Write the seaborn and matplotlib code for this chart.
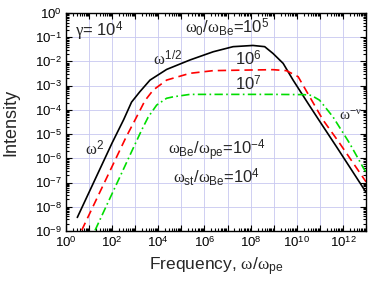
import numpy as np
import pandas as pd
import matplotlib
matplotlib.use("Agg")
import matplotlib.pyplot as plt
import seaborn as sns
from matplotlib.ticker import LogLocator, FuncFormatter, NullFormatter

# log10 of frequency / intensity
blk_lx = [0.49, 1.0, 1.5, 2.0, 2.5, 2.84, 3.2, 3.64, 4.36, 5.37, 6.38, 7.24, 8.1, 8.61, 8.97, 9.41, 9.84, 10.5, 11.0, 11.72, 12.3, 13.0]
blk_ly = [-8.44, -7.40, -6.38, -5.36, -4.40, -3.68, -3.25, -2.77, -2.33, -1.94, -1.60, -1.39, -1.34, -1.39, -1.67, -2.08, -2.77, -3.75, -4.48, -5.52, -6.37, -7.40]

red_lx = [0.68, 1.2, 1.7, 2.2, 2.6, 3.0, 3.42, 3.78, 4.36, 5.37, 6.38, 7.53, 8.97, 9.55, 10.06, 10.56, 11.14, 11.86, 12.8, 13.0]
red_ly = [-8.97, -7.93, -6.93, -5.93, -5.13, -4.40, -3.62, -3.18, -2.77, -2.49, -2.38, -2.36, -2.34, -2.38, -2.63, -3.46, -4.42, -5.38, -6.69, -6.97]

grn_lx = [1.26, 1.8, 2.3, 2.8, 3.28, 3.56, 3.93, 4.36, 4.65, 5.37, 7.0, 9.0, 10.3, 10.63, 10.99, 11.57, 12.29, 12.9, 13.0]
grn_ly = [-8.97, -7.86, -6.84, -5.81, -4.83, -4.30, -3.80, -3.52, -3.46, -3.36, -3.36, -3.36, -3.37, -3.40, -3.60, -4.29, -5.38, -6.42, -6.57]

def frame(lx, ly, name):
    return pd.DataFrame({"freq": 10.0 ** np.array(lx), "intensity": 10.0 ** np.array(ly), "case": name})

df = pd.concat([frame(blk_lx, blk_ly, "1e5"), frame(red_lx, red_ly, "1e6"), frame(grn_lx, grn_ly, "1e7")])

sns.set_theme(style="ticks")
plt.rcParams["font.family"] = ["Liberation Sans", "DejaVu Sans"]
plt.rcParams["mathtext.fontset"] = "custom"
plt.rcParams["mathtext.rm"] = "Liberation Sans"
plt.rcParams["mathtext.it"] = "Liberation Serif"
plt.rcParams["mathtext.bf"] = "Liberation Sans:bold"

fig = plt.figure(figsize=(3.8, 2.81), dpi=100)
ax = fig.add_axes([66 / 380, 1 - 231 / 281, 300 / 380, 218 / 281])

styles = {"1e5": ("black", "-"), "1e6": ("#ff0000", (0, (5, 3))), "1e7": ("#00dd00", (0, (5, 2, 1, 2)))}
for case, (c, ls) in styles.items():
    sub = df[df["case"] == case]
    sns.lineplot(data=sub, x="freq", y="intensity", ax=ax, color=c, linestyle=ls,
                 linewidth=1.2, sort=False, estimator=None)

ax.set_xscale("log")
ax.set_yscale("log")
ax.set_xlim(1, 1e13)
ax.set_ylim(1e-9, 1)

ax.xaxis.set_major_locator(LogLocator(base=10, numticks=30))
ax.xaxis.set_major_formatter(FuncFormatter(lambda v, p: r"$10^{%d}$" % round(np.log10(v)) if round(np.log10(v)) % 2 == 0 else ""))
ax.xaxis.set_minor_locator(LogLocator(base=10, subs=np.arange(2, 10), numticks=30))
ax.xaxis.set_minor_formatter(NullFormatter())
ax.yaxis.set_major_locator(LogLocator(base=10, numticks=30))
ax.yaxis.set_major_formatter(FuncFormatter(lambda v, p: r"$10^{%d}$" % round(np.log10(v))))
ax.yaxis.set_minor_locator(LogLocator(base=10, subs=np.arange(2, 10), numticks=30))
ax.yaxis.set_minor_formatter(NullFormatter())

ax.tick_params(which="both", direction="in", top=True, right=True, labelsize=9.5, colors="black", width=0.8)
ax.tick_params(which="major", length=4, pad=3)
ax.tick_params(which="minor", length=2)
ax.grid(True, which="major", color="#c8c8f0", linewidth=0.6)
for s in ax.spines.values():
    s.set_linewidth(1.0)
    s.set_color("black")

ax.set_xlabel(r"Frequency, $\omega/\omega_{\mathrm{pe}}$", fontsize=12.5, labelpad=4)
ax.set_ylabel("Intensity", fontsize=13, labelpad=11)

fs = 12
ax.text(10 ** 0.39, 10 ** -0.95, r"$\gamma$= 10$^{4}$", fontsize=fs, va="baseline")
ax.text(10 ** 5.16, 10 ** -0.83, r"$\omega_{0}/\omega_{\mathrm{Be}}$=10$^{5}$", fontsize=fs, va="baseline")
ax.text(10 ** 3.77, 10 ** -2.15, r"$\omega^{1/2}$", fontsize=fs, va="baseline")
ax.text(10 ** 7.32, 10 ** -2.17, r"10$^{6}$", fontsize=fs, va="baseline")
ax.text(10 ** 7.32, 10 ** -3.18, r"10$^{7}$", fontsize=fs, va="baseline")
ax.text(10 ** 11.85, 10 ** -4.42, r"$\omega^{-\nu}$", fontsize=11, va="baseline")
ax.text(10 ** 0.82, 10 ** -5.86, r"$\omega^{2}$", fontsize=fs, va="baseline")
ax.text(10 ** 4.43, 10 ** -5.86, r"$\omega_{\mathrm{Be}}/\omega_{\mathrm{pe}}$=10$^{-4}$", fontsize=fs, va="baseline")
ax.text(10 ** 4.65, 10 ** -7.03, r"$\omega_{\mathrm{st}}/\omega_{\mathrm{Be}}$=10$^{4}$", fontsize=fs, va="baseline")

if ax.get_legend() is not None:
    ax.get_legend().remove()

fig.savefig("out.png", dpi=100)
